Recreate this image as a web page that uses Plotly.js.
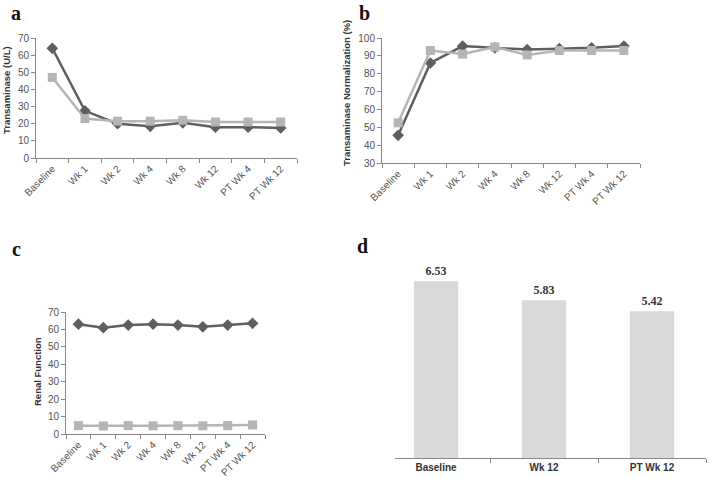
<!DOCTYPE html>
<html>
<head>
<meta charset="utf-8">
<script src="https://cdn.plot.ly/plotly-3.0.1.min.js"></script>
<style>
html,body{margin:0;padding:0;background:#fff;}
#chart{width:709px;height:477px;}
</style>
</head>
<body>
<div id="chart"></div>
<script>
// ---- data ----
const categories = ["Baseline", "Wk 1", "Wk 2", "Wk 4", "Wk 8", "Wk 12", "PT Wk 4", "PT Wk 12"];
const aDark  = [64, 27.5, 20, 18.5, 20.5, 18, 18, 17.5];
const aLight = [47, 23, 21.5, 21.5, 22, 21, 21, 21];
const bDark  = [45.5, 86, 95.5, 94.5, 93.5, 94, 94.5, 95.5];
const bLight = [52.5, 93, 91, 95, 90.5, 93, 93, 93];
const cDark  = [63, 61, 62.5, 63, 62.5, 61.5, 62.5, 63.5];
const cLight = [4.8, 4.6, 4.8, 4.7, 4.8, 4.7, 4.8, 5.2];
const dCats   = ["Baseline", "Wk 12", "PT Wk 12"];
const dValues = [6.53, 5.83, 5.42];

// ---- styles ----
const W = 709, H = 477;
const px = v => v / W;
const py = v => 1 - v / H;
const darkC = "#5f5f5f", lightC = "#b5b5b5";
const tickFont = {family: "Liberation Sans, Arial, sans-serif", size: 10, color: "#555"};

function lineTraces(dark, light, xa, ya) {
  return [
    {x: categories, y: dark, xaxis: xa, yaxis: ya, type: "scatter", mode: "lines+markers",
     line: {color: darkC, width: 2.5}, marker: {symbol: "diamond", size: 9, color: darkC}, showlegend: false, cliponaxis: false},
    {x: categories, y: light, xaxis: xa, yaxis: ya, type: "scatter", mode: "lines+markers",
     line: {color: lightC, width: 2.5}, marker: {symbol: "square", size: 9, color: lightC}, showlegend: false, cliponaxis: false}
  ];
}

const data = [].concat(
  lineTraces(aDark, aLight, "x", "y"),
  lineTraces(bDark, bLight, "x2", "y2"),
  lineTraces(cDark, cLight, "x3", "y3"),
  [{x: dCats, y: dValues, xaxis: "x4", yaxis: "y4", type: "bar", width: 0.41,
    marker: {color: "#d9d9d9"}, texttemplate: "%{y:.2f}", textposition: "outside",
    textfont: {family: "Liberation Serif, Times New Roman, serif", size: 12, color: "#333", weight: "bold"},
    cliponaxis: false, showlegend: false}]
);

function catAxis(d0, d1, anchor) {
  return {domain: [px(d0), px(d1)], anchor: anchor, type: "category", range: [-0.5, 7.5],
    tickson: "boundaries", ticks: "outside", ticklen: 4, tickcolor: "#888",
    showline: true, linecolor: "#888", linewidth: 1, showgrid: false, zeroline: false,
    tickangle: -45, tickfont: tickFont, fixedrange: true};
}
function valAxis(top, bottom, r, anchor) {
  return {domain: [py(bottom), py(top)], anchor: anchor, range: r, dtick: 10,
    ticks: "outside", ticklen: 4, tickcolor: "#888", showline: true, linecolor: "#888",
    linewidth: 1, showgrid: false, zeroline: false, tickfont: tickFont, fixedrange: true};
}

const titleFont = {family: "Liberation Sans, Arial, sans-serif", size: 9.5, color: "#333", weight: "bold"};
const letterFont = {family: "Liberation Serif, Times New Roman, serif", size: 20, color: "#111", weight: "bold"};

function ann(text, x, y, font, angle) {
  return {text: text, x: px(x), y: py(y), xref: "paper", yref: "paper", showarrow: false,
    font: font, textangle: angle || 0, xanchor: "center", yanchor: "middle"};
}

const layout = {
  width: W, height: H, margin: {l: 0, r: 0, t: 0, b: 0},
  paper_bgcolor: "#fff", plot_bgcolor: "rgba(0,0,0,0)",
  xaxis: catAxis(36, 297, "y"),
  yaxis: valAxis(38, 158, [0, 70], "x"),
  xaxis2: catAxis(382, 640, "y2"),
  yaxis2: valAxis(38, 163, [30, 100], "x2"),
  xaxis3: catAxis(66, 265, "y3"),
  yaxis3: valAxis(312, 434, [0, 70], "x3"),
  xaxis4: {domain: [px(395), px(706)], anchor: "y4", type: "category", range: [-0.38, 2.5],
    tickson: "boundaries", ticks: "outside", ticklen: 4, tickcolor: "#888",
    showline: true, linecolor: "#888", linewidth: 1, showgrid: false, zeroline: false,
    tickfont: {family: "Liberation Sans, Arial, sans-serif", size: 10, color: "#333", weight: "bold"}, fixedrange: true},
  yaxis4: {domain: [py(458), py(255)], anchor: "x4", range: [0, 7.5], visible: false, fixedrange: true},
  bargap: 0.5,
  annotations: [
    ann("a", 16, 13, letterFont),
    ann("b", 364, 13, letterFont),
    ann("c", 16, 249, letterFont),
    ann("d", 362, 246, letterFont),
    ann("Transaminase (U/L)", 7, 90, titleFont, -90),
    ann("Transaminase Normalization (%)", 347, 93, titleFont, -90),
    ann("Renal Function", 37, 372, titleFont, -90)
  ]
};

Plotly.newPlot("chart", data, layout, {displayModeBar: false, staticPlot: true});
</script>
</body>
</html>
